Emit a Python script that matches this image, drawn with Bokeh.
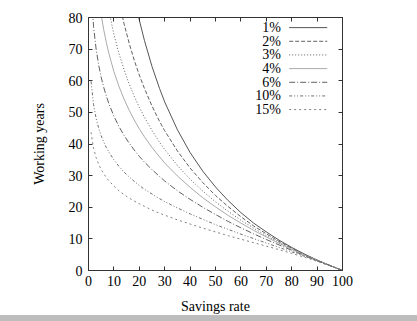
from bokeh.plotting import figure
from bokeh.models import Range1d, LinearAxis, FixedTicker, ColumnDataSource, Div
from bokeh.layouts import column
from bokeh.core.properties import value
from bokeh.embed import file_html
from bokeh.resources import INLINE

# Savings rate (%)
savings = [1, 2, 3, 4, 5, 6, 7, 8, 10, 12, 14, 16, 18, 20, 22, 25, 28, 30, 35, 40,
           45, 50, 55, 60, 65, 70, 75, 80, 85, 90, 95, 100]

# Working years for each rate of return
r1 = [344, 277, 238, 211, 191, 175, 161.5, 150, 131.5, 116.9, 105, 95.1, 86.6, 79.2, 72.8, 64.5, 57.5, 53.3, 44.5, 37.3,
      31.4, 26.4, 22.1, 18.3, 15.0, 12.2, 9.6, 7.3, 5.2, 3.3, 1.6, 0]
r2 = [207, 172.4, 152.3, 138.1, 127.2, 118.3, 110.8, 104.4, 93.7, 85.2, 78.0, 71.9, 66.5, 61.8, 57.6, 52.0, 47.1, 44.2, 37.8, 32.4,
      27.8, 23.7, 20.2, 17.0, 14.1, 11.6, 9.2, 7.1, 5.1, 3.3, 1.6, 0]
r3 = [152.3, 128.9, 115.2, 105.5, 98.0, 91.8, 86.7, 82.2, 74.7, 68.6, 63.5, 59.0, 55.1, 51.6, 48.5, 44.3, 40.5, 38.3, 33.2, 28.9,
      25.1, 21.7, 18.7, 15.9, 13.4, 11.0, 8.9, 6.9, 5.0, 3.2, 1.6, 0]
r4 = [122.0, 104.3, 93.9, 86.5, 80.8, 76.1, 72.2, 68.7, 62.9, 58.2, 54.2, 50.7, 47.6, 44.8, 42.3, 38.9, 35.9, 34.0, 29.9, 26.3,
      23.0, 20.1, 17.4, 15.0, 12.7, 10.6, 8.6, 6.7, 4.9, 3.2, 1.6, 0]
r6 = [89.0, 77.1, 70.0, 65.0, 61.1, 57.9, 55.2, 52.8, 48.8, 45.5, 42.7, 40.3, 38.1, 36.1, 34.3, 31.9, 29.7, 28.3, 25.2, 22.5,
      20.0, 17.7, 15.5, 13.5, 11.6, 9.8, 8.1, 6.4, 4.7, 3.1, 1.6, 0]
r10 = [59.8, 52.4, 48.1, 45.0, 42.6, 40.6, 38.9, 37.5, 35.0, 32.9, 31.1, 29.6, 28.2, 26.9, 25.7, 24.2, 22.7, 21.8, 19.8, 17.9,
       16.2, 14.5, 13.0, 11.5, 10.1, 8.7, 7.3, 5.9, 4.5, 3.0, 1.5, 0]
r15 = [43.7, 38.6, 35.7, 33.6, 31.9, 30.6, 29.4, 28.4, 26.7, 25.2, 24.0, 22.9, 22.0, 21.1, 20.3, 19.1, 18.1, 17.5, 16.0, 14.7,
       13.4, 12.2, 11.0, 9.9, 8.8, 7.7, 6.6, 5.4, 4.2, 2.9, 1.5, 0]

labels = ["1%", "2%", "3%", "4%", "6%", "10%", "15%"]
series = [r1, r2, r3, r4, r6, r10, r15]
colors = ["#555555", "#606060", "#606060", "#aaaaaa", "#606060", "#707070", "#808080"]
dashes = ["solid", "4 2", "1 2", "solid", "6 2 1 2", "3 2 1 2 1 2", "2 3"]

x_ticks = [0, 10, 20, 30, 40, 50, 60, 70, 80, 90, 100]
y_ticks = [0, 10, 20, 30, 40, 50, 60, 70, 80]

FONT = "Liberation Serif"
FS = "14px"

p = figure(width=417, height=321, output_backend="svg", toolbar_location=None,
           x_range=Range1d(0, 100), y_range=Range1d(0, 80),
           min_border_left=88, min_border_right=75, min_border_top=17, min_border_bottom=51)
p.outline_line_color = "#333333"
p.outline_line_width = 1
p.xgrid.visible = False
p.ygrid.visible = False
p.background_fill_color = "white"
p.border_fill_color = "white"

for ax, ticks in ((p.xaxis[0], x_ticks), (p.yaxis[0], y_ticks)):
    ax.ticker = FixedTicker(ticks=ticks)
    ax.major_tick_in = 4
    ax.major_tick_out = 0
    ax.minor_tick_line_color = None
    ax.axis_line_color = "#333333"
    ax.major_tick_line_color = "#333333"
    ax.major_label_text_font = FONT
    ax.major_label_text_font_size = FS
    ax.major_label_text_color = "black"
    ax.axis_label_text_font = FONT
    ax.axis_label_text_font_size = FS
    ax.axis_label_text_font_style = "normal"
    ax.axis_label_text_color = "black"

p.xaxis[0].axis_label = "Savings rate"
p.xaxis[0].major_label_standoff = 5
p.xaxis[0].axis_label_standoff = 10
p.yaxis[0].axis_label = "Working years"
p.yaxis[0].major_label_standoff = 6
p.yaxis[0].axis_label_standoff = 19

# mirrored ticks on top and right (no labels)
for loc, ticks in (("above", x_ticks), ("right", y_ticks)):
    ax = LinearAxis(ticker=FixedTicker(ticks=ticks), major_tick_in=4, major_tick_out=0,
                    minor_tick_line_color=None, axis_line_color="#333333",
                    major_tick_line_color="#333333", major_label_text_font_size="1px",
                    major_label_text_color=None, major_label_standoff=0)
    p.add_layout(ax, loc)

for lab, ys, c, d in zip(labels, series, colors, dashes):
    src = ColumnDataSource(dict(x=savings, y=ys))
    p.line("x", "y", source=src, line_color=c, line_width=1, line_dash=d)

# legend (label right-aligned, sample line to the right), inside the frame
lx_text = 75.8
lx0, lx1 = 79.0, 94.0
ly0, lstep = 76.8, 4.32
for i, (lab, c, d) in enumerate(zip(labels, colors, dashes)):
    yy = ly0 - i * lstep
    p.text(x=[lx_text], y=[yy], text=[lab], text_font=value(FONT), text_font_size=value(FS),
           text_align="right", text_baseline="middle", text_color="black")
    p.segment(x0=[lx0], y0=[yy], x1=[lx1], y1=[yy], line_color=c, line_width=1, line_dash=d)

# light grey strip along the bottom edge, overlapping the figure's bottom border
band = Div(width=417, height=6, margin=(-6, 0, 0, 0), styles={"background-color": "#bdbdbd"})
layout = column(p, band, spacing=0)

open("out.html", "w").write(file_html(layout, INLINE))
